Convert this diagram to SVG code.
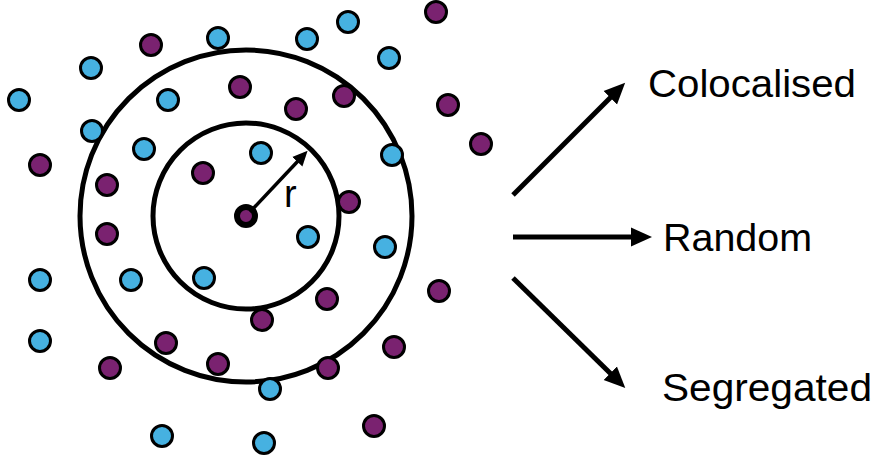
<svg xmlns="http://www.w3.org/2000/svg" width="874" height="459" viewBox="0 0 874 459">
  <style>
    .ring { fill: none; stroke: #000; stroke-width: 5; }
    .b { fill: #46B1E1; stroke: #000; stroke-width: 3; }
    .p { fill: #7A2270; stroke: #000; stroke-width: 3; }
    .conn { stroke: #000; fill: none; }
    .label { font-family: "Liberation Sans", Arial, sans-serif; font-size: 38px; fill: #000; }
  </style>
  <defs>
    <marker id="head" markerUnits="userSpaceOnUse" viewBox="0 -11 22 22" markerWidth="22" markerHeight="22" refX="1" refY="0" orient="auto">
      <path d="M0,-9.5 L21,0 L0,9.5 Z" fill="#000"/>
    </marker>
    <marker id="headSmall" markerUnits="userSpaceOnUse" viewBox="0 -8 16 16" markerWidth="16" markerHeight="16" refX="1" refY="0" orient="auto">
      <path d="M0,-7 L15,0 L0,7 Z" fill="#000"/>
    </marker>
  </defs>
  <rect width="874" height="459" fill="#fff"/>

  <!-- search radii around the reference point -->
  <g id="rings">
    <circle class="ring" cx="246" cy="216" r="166"/>
    <circle class="ring" cx="246" cy="216" r="93"/>
  </g>

  <!-- channel A points -->
  <g id="blue-points">
    <circle class="b" cx="218" cy="38" r="10.5"/>
    <circle class="b" cx="91" cy="68" r="10.5"/>
    <circle class="b" cx="19" cy="100" r="10.5"/>
    <circle class="b" cx="168" cy="100" r="10.5"/>
    <circle class="b" cx="92" cy="131" r="10.5"/>
    <circle class="b" cx="144" cy="149" r="10.5"/>
    <circle class="b" cx="348" cy="22" r="10.5"/>
    <circle class="b" cx="307" cy="39" r="10.5"/>
    <circle class="b" cx="389" cy="58" r="10.5"/>
    <circle class="b" cx="261" cy="153" r="10.5"/>
    <circle class="b" cx="392" cy="155" r="10.5"/>
    <circle class="b" cx="308" cy="237" r="10.5"/>
    <circle class="b" cx="385" cy="247" r="10.5"/>
    <circle class="b" cx="40" cy="280" r="10.5"/>
    <circle class="b" cx="131" cy="280" r="10.5"/>
    <circle class="b" cx="204" cy="278" r="10.5"/>
    <circle class="b" cx="40" cy="341" r="10.5"/>
    <circle class="b" cx="162" cy="436" r="10.5"/>
    <circle class="b" cx="270" cy="389" r="10.5"/>
    <circle class="b" cx="264" cy="443" r="10.5"/>
  </g>

  <!-- channel B points -->
  <g id="purple-points">
    <circle class="p" cx="151" cy="45" r="10.5"/>
    <circle class="p" cx="240" cy="87" r="10.5"/>
    <circle class="p" cx="40" cy="165" r="10.5"/>
    <circle class="p" cx="107" cy="185" r="10.5"/>
    <circle class="p" cx="203" cy="173" r="10.5"/>
    <circle class="p" cx="107" cy="234" r="10.5"/>
    <circle class="p" cx="436" cy="12" r="10.5"/>
    <circle class="p" cx="296" cy="109" r="10.5"/>
    <circle class="p" cx="344" cy="96" r="10.5"/>
    <circle class="p" cx="448" cy="105" r="10.5"/>
    <circle class="p" cx="481" cy="144" r="10.5"/>
    <circle class="p" cx="349" cy="202" r="10.5"/>
    <circle class="p" cx="166" cy="343" r="10.5"/>
    <circle class="p" cx="110" cy="368" r="10.5"/>
    <circle class="p" cx="218" cy="364" r="10.5"/>
    <circle class="p" cx="439" cy="291" r="10.5"/>
    <circle class="p" cx="327" cy="299" r="10.5"/>
    <circle class="p" cx="262" cy="320" r="10.5"/>
    <circle class="p" cx="394" cy="347" r="10.5"/>
    <circle class="p" cx="328" cy="368" r="10.5"/>
    <circle class="p" cx="374" cy="426" r="10.5"/>
  </g>

  <!-- reference point -->
  <g id="center">
    <circle cx="246" cy="216" r="9" fill="#7A2270" stroke="#000" stroke-width="6"/>
  </g>

  <g id="connectors">
    <line class="conn" x1="250" y1="212" x2="298" y2="161" stroke-width="3.5" marker-end="url(#headSmall)"/>
    <line class="conn" x1="513" y1="195" x2="611" y2="97" stroke-width="5" marker-end="url(#head)"/>
    <line class="conn" x1="513" y1="237" x2="632" y2="237" stroke-width="5" marker-end="url(#head)"/>
    <line class="conn" x1="513" y1="278" x2="611" y2="374" stroke-width="5" marker-end="url(#head)"/>
  </g>

  <g id="radius-label">
    <text class="label" x="284" y="207" font-size="34">r</text>
  </g>
  <g id="colocalised">
    <text class="label" x="648" y="97" textLength="208" lengthAdjust="spacingAndGlyphs">Colocalised</text>
  </g>
  <g id="random">
    <text class="label" x="663" y="251" textLength="149" lengthAdjust="spacingAndGlyphs">Random</text>
  </g>
  <g id="segregated">
    <text class="label" x="662" y="401" textLength="210" lengthAdjust="spacingAndGlyphs">Segregated</text>
  </g>
</svg>
